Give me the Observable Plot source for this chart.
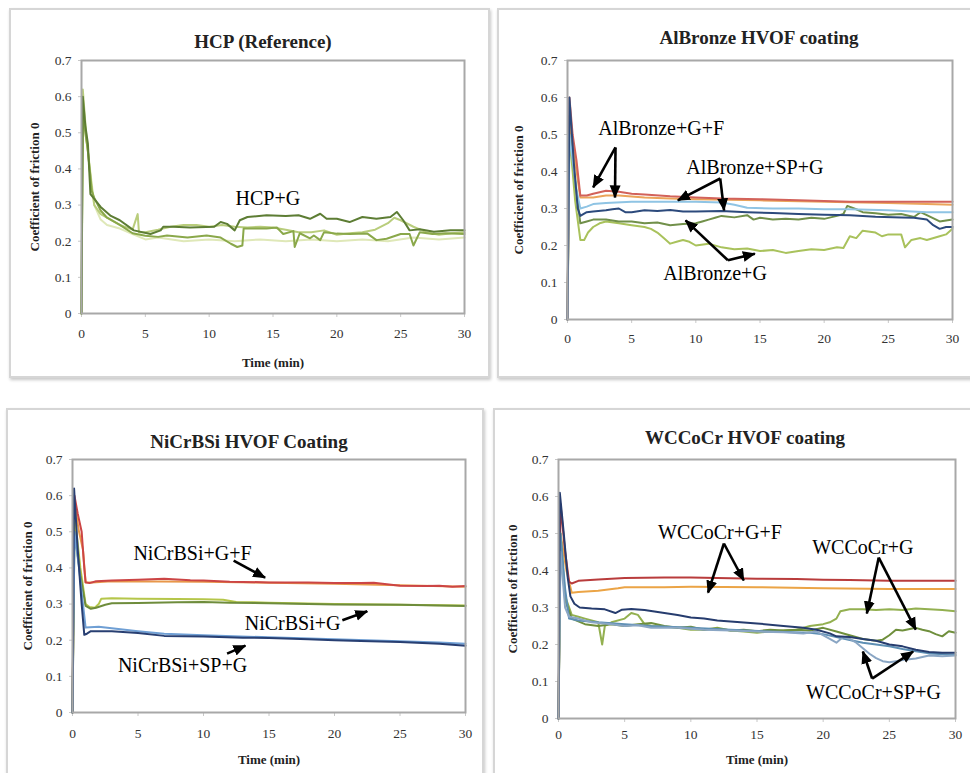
<!DOCTYPE html>
<html><head><meta charset="utf-8">
<script src="https://cdn.jsdelivr.net/npm/d3@7"></script>
<script src="https://cdn.jsdelivr.net/npm/@observablehq/plot@0.6"></script>
<style>
html,body{margin:0;padding:0;background:#fff;width:970px;height:773px;overflow:hidden;}
#root{position:relative;width:970px;height:773px;overflow:hidden;}
.panel{position:absolute;border:2px solid #d6d6d6;box-shadow:1px 2px 3px rgba(0,0,0,0.22);background:#fff;box-sizing:border-box;}
.title{position:absolute;transform:translate(-50%,-50%);font-weight:bold;font-size:19px;font-family:"Liberation Serif","DejaVu Serif","Noto Serif",serif;color:#222;white-space:nowrap;z-index:5;}
.chart{position:absolute;z-index:3;}
.chart svg [aria-label="y-axis label"] text,.chart svg [aria-label="x-axis label"] text{font-weight:bold;font-size:13px;fill:#222;}
</style></head><body><div id="root"></div>
<script>
const SERIF = "'Liberation Serif', 'DejaVu Serif', 'Noto Serif', serif";
// ---------- shared ticks ----------
const timeTicks = [0, 5, 10, 15, 20, 25, 30];
const cofTicks = [0, 0.1, 0.2, 0.3, 0.4, 0.5, 0.6, 0.7];
const xTitle = "Time (min)";
const yTitle = "Coefficient of friction 0";

// ---------- Panel 1: HCP (Reference) ----------
const hcpTitle = "HCP (Reference)";
const hcpPale = [[0,0],[0.1,0.55],[0.5,0.45],[1,0.3],[1.5,0.26],[2,0.245],[3,0.235],[4,0.22],[5,0.205],[6,0.21],[8,0.2],[10,0.205],[12,0.2],[14,0.205],[16,0.2],[18,0.205],[20,0.2],[22,0.205],[24,0.2],[26,0.21],[28,0.205],[30,0.21]];
const hcpLight = [[0,0],[0.1,0.62],[0.4,0.48],[0.8,0.35],[1,0.3],[1.5,0.275],[2,0.265],[3,0.245],[4,0.232],[4.4,0.275],[4.5,0.225],[5,0.225],[6,0.232],[7,0.24],[8,0.245],[9,0.245],[10,0.24],[11,0.245],[12,0.24],[13,0.238],[14,0.24],[15,0.238],[16,0.232],[17,0.225],[18,0.225],[19,0.23],[20,0.218],[21,0.222],[22,0.225],[23,0.232],[24,0.25],[24.5,0.265],[25,0.258],[26,0.24],[27,0.225],[28,0.218],[29,0.222],[30,0.225]];
const hcpMid = [[0,0],[0.1,0.55],[0.3,0.5],[0.5,0.45],[0.8,0.34],[1,0.32],[1.5,0.285],[2,0.265],[3,0.245],[4,0.222],[5,0.215],[6,0.212],[6.7,0.216],[8.3,0.21],[9.8,0.216],[10.9,0.21],[11.7,0.193],[12.2,0.184],[12.6,0.188],[12.7,0.235],[14.5,0.235],[15.3,0.238],[15.8,0.22],[16.6,0.228],[16.7,0.184],[17.1,0.222],[17.9,0.208],[18.2,0.216],[18.7,0.203],[19,0.225],[20,0.221],[21,0.22],[22.4,0.221],[23.1,0.203],[23.9,0.207],[25,0.22],[25.7,0.22],[26,0.188],[26.5,0.225],[27.5,0.22],[28.5,0.222],[30,0.22]];
const hcpDark = [[0,0],[0.1,0.6],[0.3,0.52],[0.5,0.47],[0.7,0.33],[1.5,0.295],[2.3,0.27],[3,0.258],[4.1,0.23],[5.4,0.22],[6.2,0.23],[6.4,0.24],[7.2,0.24],[8.5,0.238],[10.4,0.24],[10.9,0.253],[11.4,0.248],[12,0.23],[12.4,0.258],[13,0.267],[14.5,0.272],[16,0.27],[17,0.272],[17.9,0.262],[18.7,0.276],[19.2,0.262],[20,0.262],[21,0.253],[22,0.267],[23.1,0.262],[24.2,0.267],[24.7,0.281],[25.2,0.258],[25.7,0.23],[26.5,0.233],[27.6,0.226],[28.9,0.23],[30,0.23]];
const hcpLabels = [["HCP+G", 14.6, 0.318]];
const hcpArrows = [];

// ---------- Panel 2: AlBronze HVOF coating ----------
const abTitle = "AlBronze HVOF coating";
const abYellow = [[0,0],[0.15,0.5],[0.6,0.32],[1,0.215],[1.3,0.215],[1.6,0.235],[2,0.25],[2.5,0.26],[3,0.265],[4,0.26],[5,0.255],[6,0.25],[6.5,0.245],[7,0.235],[7.5,0.22],[8,0.205],[8.5,0.21],[9,0.215],[9.5,0.21],[10,0.2],[11,0.205],[12,0.195],[13,0.19],[14,0.192],[15,0.185],[16,0.188],[17,0.18],[18,0.185],[19,0.19],[20,0.188],[21,0.195],[21.5,0.193],[22,0.225],[22.5,0.22],[23,0.24],[24,0.235],[24.5,0.225],[25,0.23],[26,0.23],[26.3,0.195],[26.8,0.215],[27.5,0.22],[28,0.215],[29,0.225],[29.5,0.23],[30,0.245]];
const abOlive = [[0,0],[0.15,0.55],[0.5,0.4],[1,0.26],[1.5,0.265],[2,0.27],[3,0.27],[4,0.265],[5,0.265],[6,0.26],[7,0.262],[8,0.255],[9,0.258],[10,0.26],[10.5,0.265],[11,0.27],[11.5,0.275],[12,0.28],[13,0.276],[14,0.282],[14.5,0.27],[15,0.275],[16,0.27],[17,0.272],[18,0.27],[19,0.275],[20,0.272],[21,0.28],[21.5,0.285],[21.8,0.307],[22.5,0.298],[23,0.29],[24,0.287],[25,0.283],[26,0.285],[27,0.277],[27.5,0.29],[28,0.282],[29,0.265],[30,0.27]];
const abOrange = [[0,0],[0.15,0.55],[0.5,0.45],[1,0.33],[2,0.33],[3,0.335],[4,0.335],[6,0.33],[8,0.327],[10,0.325],[15,0.322],[20,0.318],[25,0.315],[28,0.312],[30,0.31]];
const abRed = [[0,0],[0.15,0.6],[0.4,0.5],[0.7,0.43],[1,0.335],[1.5,0.335],[2,0.34],[3,0.348],[4,0.345],[5,0.34],[6,0.338],[8,0.333],[10,0.33],[12,0.327],[15,0.325],[18,0.322],[20,0.32],[22,0.318],[25,0.318],[28,0.318],[30,0.318]];
const abLightBlue = [[0,0],[0.15,0.5],[0.7,0.35],[1,0.3],[1.5,0.305],[2,0.312],[3,0.315],[5,0.318],[8,0.318],[10,0.318],[12,0.316],[13,0.31],[14,0.302],[16,0.3],[18,0.3],[20,0.298],[22,0.298],[25,0.295],[28,0.29],[30,0.29]];
const abNavy = [[0,0],[0.15,0.6],[0.5,0.42],[0.8,0.3],[1,0.28],[1.5,0.29],[2,0.292],[3,0.295],[3.5,0.298],[4,0.3],[4.5,0.29],[5,0.29],[6,0.295],[7,0.293],[8,0.296],[9,0.292],[10,0.292],[12,0.293],[14,0.29],[16,0.288],[18,0.285],[20,0.283],[22,0.282],[24,0.278],[26,0.276],[27,0.275],[28,0.27],[28.5,0.255],[29,0.245],[29.5,0.25],[30,0.25]];
const abLabels = [["AlBronze+G+F", 7.3, 0.516], ["AlBronze+SP+G", 14.6, 0.411], ["AlBronze+G", 11.5, 0.124]];
const abArrows = [[3.74,0.465,2.0,0.357],[3.74,0.465,3.7,0.33],[11.9,0.381,8.6,0.322],[11.9,0.381,12.2,0.295],[12.5,0.16,9.2,0.268],[12.5,0.16,14.6,0.178]];

// ---------- Panel 3: NiCrBSi HVOF Coating ----------
const ncTitle = "NiCrBSi HVOF Coating";
const ncOrange = [[0,0],[0.15,0.58],[0.5,0.5],[0.8,0.45],[1,0.36],[1.5,0.36],[3,0.363],[10,0.362],[20,0.356],[30,0.348]];
const ncRed = [[0,0],[0.15,0.6],[0.4,0.55],[0.7,0.5],[0.9,0.4],[1,0.36],[1.3,0.358],[1.8,0.363],[3,0.365],[5,0.367],[7,0.37],[9,0.366],[10,0.365],[12,0.362],[15,0.36],[18,0.36],[20,0.358],[22,0.358],[23,0.359],[24,0.355],[25,0.351],[27,0.35],[28,0.351],[29,0.348],[30,0.35]];
const ncYellow = [[0,0],[0.15,0.55],[0.6,0.4],[1,0.3],[1.3,0.292],[1.7,0.29],[2,0.3],[2.2,0.315],[3,0.316],[5,0.315],[8,0.314],[10,0.313],[11.5,0.312],[12.5,0.306],[15,0.304],[20,0.3],[25,0.298],[30,0.296]];
const ncOlive = [[0,0],[0.15,0.5],[0.6,0.38],[1,0.295],[1.4,0.287],[1.8,0.29],[2.5,0.298],[3,0.302],[5,0.303],[8,0.305],[10,0.306],[12,0.304],[15,0.302],[20,0.299],[25,0.298],[30,0.295]];
const ncLightBlue = [[0,0],[0.15,0.5],[0.5,0.4],[0.8,0.3],[1,0.235],[2,0.237],[3,0.233],[5,0.225],[7,0.218],[10,0.214],[15,0.208],[20,0.203],[25,0.197],[28,0.194],[30,0.19]];
const ncNavy = [[0,0],[0.12,0.62],[0.4,0.45],[0.7,0.3],[0.9,0.215],[1.1,0.218],[1.4,0.225],[3,0.225],[5,0.22],[7,0.212],[10,0.21],[13,0.207],[15,0.206],[18,0.203],[20,0.2],[22,0.198],[25,0.195],[28,0.19],[30,0.185]];
const ncLabels = [["NiCrBSi+G+F", 9.16, 0.44], ["NiCrBSi+G", 16.8, 0.246], ["NiCrBSi+SP+G", 8.4, 0.13]];
const ncArrows = [[12.3,0.42,14.7,0.373],[20.6,0.255,22.5,0.28],[11.8,0.163,13.2,0.185]];

// ---------- Panel 4: WCCoCr HVOF coating ----------
const wcTitle = "WCCoCr HVOF coating";
const wcOrange = [[0,0],[0.15,0.5],[0.6,0.4],[1,0.34],[1.5,0.342],[3,0.345],[4.5,0.352],[5,0.355],[8,0.355],[10,0.356],[15,0.355],[20,0.352],[25,0.35],[30,0.35]];
const wcRed = [[0,0],[0.15,0.58],[0.5,0.45],[0.8,0.37],[1,0.365],[1.5,0.372],[3,0.376],[5,0.38],[8,0.381],[10,0.381],[12,0.38],[15,0.378],[18,0.377],[20,0.375],[22,0.374],[25,0.372],[28,0.372],[30,0.372]];
const wcOlive = [[0,0],[0.15,0.5],[0.5,0.33],[1,0.28],[1.5,0.275],[2,0.27],[3,0.26],[3.3,0.2],[3.5,0.25],[4,0.26],[5,0.27],[5.5,0.285],[6,0.28],[6.5,0.255],[7,0.25],[8,0.248],[9,0.245],[10,0.24],[11,0.24],[12,0.245],[13,0.238],[14,0.235],[15,0.232],[16,0.235],[17,0.238],[18,0.24],[19,0.25],[20,0.255],[20.5,0.26],[21,0.27],[21.3,0.29],[22,0.295],[23,0.295],[24,0.293],[25,0.295],[26,0.293],[27,0.297],[28,0.295],[29,0.293],[30,0.29]];
const wcGreen = [[0,0],[0.15,0.48],[0.5,0.32],[1,0.27],[2,0.255],[3,0.25],[4,0.255],[5,0.25],[6,0.255],[7,0.258],[8,0.25],[9,0.245],[10,0.248],[11,0.24],[12,0.243],[13,0.238],[14,0.24],[15,0.236],[16,0.24],[17,0.238],[18,0.24],[19,0.238],[20,0.245],[21,0.235],[22,0.225],[23,0.215],[24,0.21],[24.5,0.213],[25,0.225],[25.5,0.24],[26,0.238],[27,0.245],[27.5,0.24],[28,0.236],[28.5,0.228],[29,0.222],[29.5,0.236],[30,0.232]];
const wcTeal = [[0,0],[0.15,0.5],[0.5,0.35],[0.8,0.27],[1.5,0.265],[3,0.26],[5,0.255],[7,0.25],[10,0.245],[13,0.24],[16,0.235],[19,0.232],[20,0.228],[21,0.22],[22,0.212],[23,0.205],[24,0.2],[25,0.195],[26,0.188],[27,0.182],[28,0.176],[30,0.172]];
const wcGrayBlue = [[0,0],[0.15,0.45],[0.5,0.3],[0.8,0.275],[1.5,0.27],[2.5,0.26],[4,0.255],[5,0.25],[6,0.252],[7,0.245],[9,0.245],[11,0.24],[13,0.238],[15,0.235],[17,0.233],[18.5,0.23],[19.5,0.235],[20.5,0.215],[21,0.205],[21.5,0.22],[22,0.215],[22.5,0.205],[23,0.19],[23.5,0.175],[24,0.163],[24.5,0.155],[25,0.152],[25.5,0.155],[26,0.158],[27,0.162],[28,0.17],[29,0.168],[30,0.17]];
const wcNavy = [[0,0],[0.1,0.61],[0.4,0.5],[0.7,0.38],[0.9,0.33],[1.2,0.31],[1.6,0.3],[2.5,0.297],[3.5,0.295],[4.3,0.285],[4.8,0.294],[5.5,0.296],[6.5,0.293],[8,0.285],[9,0.28],[10,0.273],[11,0.27],[12,0.265],[13,0.262],[15,0.257],[17,0.25],[18.5,0.245],[19.5,0.24],[20.5,0.23],[21,0.222],[22,0.22],[23,0.215],[24,0.21],[25,0.2],[26,0.195],[27,0.186],[28,0.18],[29,0.178],[30,0.178]];
const wcLabels = [["WCCoCr+G+F", 12.2, 0.503], ["WCCoCr+G", 23.0, 0.462], ["WCCoCr+SP+G", 23.8, 0.07]];
const wcArrows = [[12.5,0.473,11.3,0.34],[12.5,0.473,14.0,0.373],[24.2,0.435,23.3,0.284],[24.2,0.435,27.0,0.24],[23.7,0.108,23.0,0.181],[23.7,0.108,26.8,0.181]];

// ---------- layout ----------
const panels = [
  {box:[9,8,481,370], title:hcpTitle, tx:263, ty:42, left:21, top:50, w:458, h:318, ml:60, mr:15, mt:10, mb:55, xpad:11, xlab:true, xoff:53, yoff:52,
   series:[[hcpPale,"#dfe8b8"],[hcpLight,"#b9cd7c"],[hcpMid,"#8aa84a"],[hcpDark,"#5d7d34"]], labels:hcpLabels, arrows:hcpArrows},
  {box:[497,8,490,370], title:abTitle, tx:759, ty:38, left:507, top:50, w:460, h:299, ml:60, mr:15, mt:10, mb:30, xpad:10, xlab:false, xoff:0, yoff:54,
   series:[[abYellow,"#a9c25c"],[abOlive,"#71904a"],[abOrange,"#eba45a"],[abRed,"#d2625a"],[abLightBlue,"#8fc4e4"],[abNavy,"#2c4a7c"]], labels:abLabels, arrows:abArrows},
  {box:[6,408,478,380], title:ncTitle, tx:249, ty:442, left:12, top:449, w:468, h:318, ml:60, mr:15, mt:10, mb:55, xpad:12, xlab:true, xoff:51, yoff:50,
   series:[[ncOrange,"#e8974a"],[ncRed,"#cc4545"],[ncYellow,"#b5c64a"],[ncOlive,"#6e8c3c"],[ncLightBlue,"#6f9fd4"],[ncNavy,"#283f72"]], labels:ncLabels, arrows:ncArrows},
  {box:[493,408,490,380], title:wcTitle, tx:745, ty:438, left:498, top:449, w:469, h:324, ml:60, mr:12, mt:10, mb:55, xpad:7, xlab:true, xoff:45, yoff:51,
   series:[[wcOrange,"#eba446"],[wcRed,"#b93c3c"],[wcOlive,"#93b050"],[wcGreen,"#6f8f3c"],[wcTeal,"#5d8fb4"],[wcGrayBlue,"#8aa6c4"],[wcNavy,"#263c6e"]], labels:wcLabels, arrows:wcArrows}
];

// filled triangular arrowhead marker
function filledHead(color, context) {
  const doc = (context && context.document) || document;
  const ns = "http://www.w3.org/2000/svg";
  const m = doc.createElementNS(ns, "marker");
  m.setAttribute("viewBox", "-12 -6 13 12");
  m.setAttribute("markerWidth", 13);
  m.setAttribute("markerHeight", 12);
  m.setAttribute("markerUnits", "userSpaceOnUse");
  m.setAttribute("orient", "auto");
  m.setAttribute("refX", 0);
  m.setAttribute("refY", 0);
  const path = doc.createElementNS(ns, "path");
  path.setAttribute("d", "M-12,-5.5L1,0L-12,5.5Z");
  path.setAttribute("fill", color);
  path.setAttribute("stroke", "none");
  m.appendChild(path);
  return m;
}

function buildChart(p, customHeads) {
  const arrowMark = customHeads
    ? Plot.link(p.arrows, {x1: d => d[0], y1: d => d[1], x2: d => d[2], y2: d => d[3], stroke: "#000", strokeWidth: 2.6, markerEnd: filledHead})
    : Plot.arrow(p.arrows, {x1: d => d[0], y1: d => d[1], x2: d => d[2], y2: d => d[3], stroke: "#000", strokeWidth: 2.6, headLength: 11, headAngle: 55});
  return Plot.plot({
    width: p.w, height: p.h,
    marginLeft: p.ml, marginRight: p.mr, marginTop: p.mt, marginBottom: p.mb,
    x: {domain: [0, 30]},
    y: {domain: [0, 0.7]},
    style: {fontFamily: SERIF, fontSize: "13.5px", color: "#333", background: "transparent", overflow: "visible"},
    marks: [
      Plot.axisX({ticks: timeTicks, tickSize: 4, tickPadding: p.xpad, stroke: "#c8c8c8", fill: "#333",
        label: p.xlab ? xTitle : null, labelAnchor: "center", labelArrow: "none", labelOffset: p.xoff}),
      Plot.axisY({ticks: cofTicks, tickSize: 3, tickPadding: 7, stroke: "#c8c8c8", fill: "#333",
        tickFormat: d => d === 0 ? "0" : d.toFixed(1),
        label: yTitle, labelAnchor: "center", labelArrow: "none", labelOffset: p.yoff}),
      ...p.series.map(([data, color]) => Plot.line(data, {x: d => d[0], y: d => d[1], stroke: color, strokeWidth: 2})),
      Plot.frame({stroke: "#a8a8a8", strokeWidth: 2}),
      arrowMark,
      Plot.text(p.labels, {x: d => d[1], y: d => d[2], text: d => d[0], fontSize: 20, fill: "#000", fontFamily: SERIF})
    ]
  });
}

const root = document.getElementById("root");
for (const p of panels) {
  const box = document.createElement("div");
  box.className = "panel";
  Object.assign(box.style, {left:p.box[0]+"px", top:p.box[1]+"px", width:p.box[2]+"px", height:p.box[3]+"px"});
  root.appendChild(box);

  let chart;
  try { chart = buildChart(p, true); } catch (e) { chart = buildChart(p, false); }
  const wrap = document.createElement("div");
  wrap.className = "chart";
  Object.assign(wrap.style, {left: p.left+"px", top: p.top+"px"});
  wrap.appendChild(chart);
  root.appendChild(wrap);

  const t = document.createElement("div");
  t.className = "title";
  t.textContent = p.title;
  Object.assign(t.style, {left: p.tx+"px", top: p.ty+"px"});
  root.appendChild(t);
}
</script></body></html>
